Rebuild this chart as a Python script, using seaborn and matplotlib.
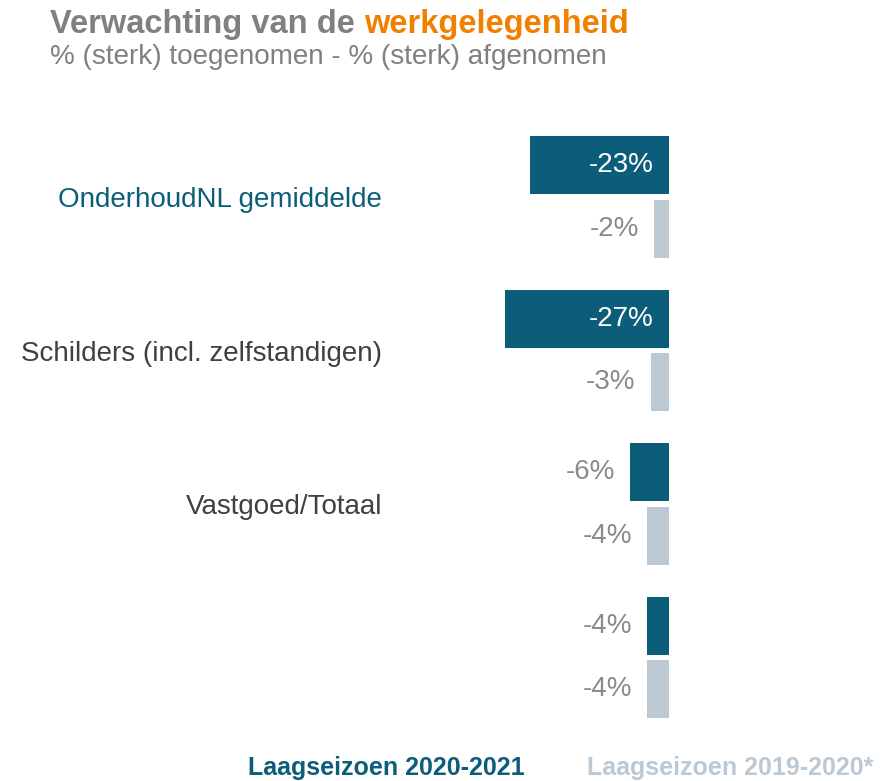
import pandas as pd
import matplotlib
matplotlib.use("Agg")
import matplotlib.pyplot as plt
import seaborn as sns

# ---------------- data ----------------
categories = ["OnderhoudNL gemiddelde", "Schilders (incl. zelfstandigen)", "Vastgoed/Totaal", ""]
seasons = ["Laagseizoen 2020-2021", "Laagseizoen 2019-2020*"]
values_2021 = [-22.9, -27.0, -6.4, -3.6]
values_2020 = [-2.4, -3.0, -3.6, -3.6]

TEAL = "#0b5d7a"
LIGHT = "#bcc8d2"
ORANGE = "#f08000"
GREY_TXT = "#808080"
VAL_TXT = "#8a8a8a"
CAT_TXT = "#404040"

sns.set_style("white")
plt.rcParams["font.family"] = ["Liberation Sans", "DejaVu Sans"]

df = pd.DataFrame({
    "categorie": categories * 2,
    "seizoen": [seasons[0]] * 4 + [seasons[1]] * 4,
    "waarde": values_2021 + values_2020,
})

W, H = 895, 781
fig = plt.figure(figsize=(W / 100, H / 100), dpi=100)

PX_PER_UNIT = 6.07
zero_px, left_px = 669, 392
top_px, bot_px = 100, 740
ax = fig.add_axes([left_px / W, 1 - bot_px / H, (zero_px - left_px) / W, (bot_px - top_px) / H])

sns.barplot(data=df, y="categorie", x="waarde", hue="seizoen", order=categories,
            hue_order=seasons, palette=[TEAL, LIGHT], saturation=1, width=0.83, gap=0.09,
            orient="h", legend=False, linewidth=0, ax=ax)

ax.set_xlim(-(zero_px - left_px) / PX_PER_UNIT, 0)
ax.set_ylim((bot_px - 197) / 153.5, (top_px - 197) / 153.5)
sns.despine(ax=ax, left=True, bottom=True)
ax.set_xticks([])
ax.set_xlabel(""); ax.set_ylabel("")
ax.tick_params(axis="y", length=0, pad=7, labelsize=20)
for lbl in ax.get_yticklabels():
    lbl.set_color(TEAL if lbl.get_text() == categories[0] else CAT_TXT)

# value labels: inside (white) for the wide bars, left of the bar otherwise
for cont, vals in zip(ax.containers, [values_2021, values_2020]):
    for patch, v in zip(cont.patches, vals):
        yc = patch.get_y() + patch.get_height() / 2
        txt = f"{v:.0f}%"
        if abs(v) > 10:
            ax.annotate(txt, (0, yc), xytext=(-11, 0), textcoords="offset points",
                        ha="right", va="center", fontsize=20, color="white")
        else:
            ax.annotate(txt, (v, yc), xytext=(-11, 0), textcoords="offset points",
                        ha="right", va="center", fontsize=20, color=VAL_TXT)

# title + subtitle
t1 = fig.text(50 / W, 1 - 33 / H, "Verwachting van de ", fontsize=23.5, fontweight="bold",
              color=GREY_TXT, ha="left", va="baseline")
fig.canvas.draw()
bb = t1.get_window_extent()
fig.text(bb.x1 / W, 1 - 33 / H, "werkgelegenheid", fontsize=23.5, fontweight="bold",
         color=ORANGE, ha="left", va="baseline")
fig.text(50 / W, 1 - 64 / H, "% (sterk) toegenomen - % (sterk) afgenomen", fontsize=20.1,
         color=GREY_TXT, ha="left", va="baseline")

# legend-like labels at the bottom
fig.text(248 / W, 1 - 775 / H, seasons[0], fontsize=18, fontweight="bold",
         color=TEAL, ha="left", va="baseline")
fig.text(587 / W, 1 - 775 / H, seasons[1], fontsize=18, fontweight="bold",
         color=LIGHT, ha="left", va="baseline")

fig.savefig("out.png", dpi=100)
